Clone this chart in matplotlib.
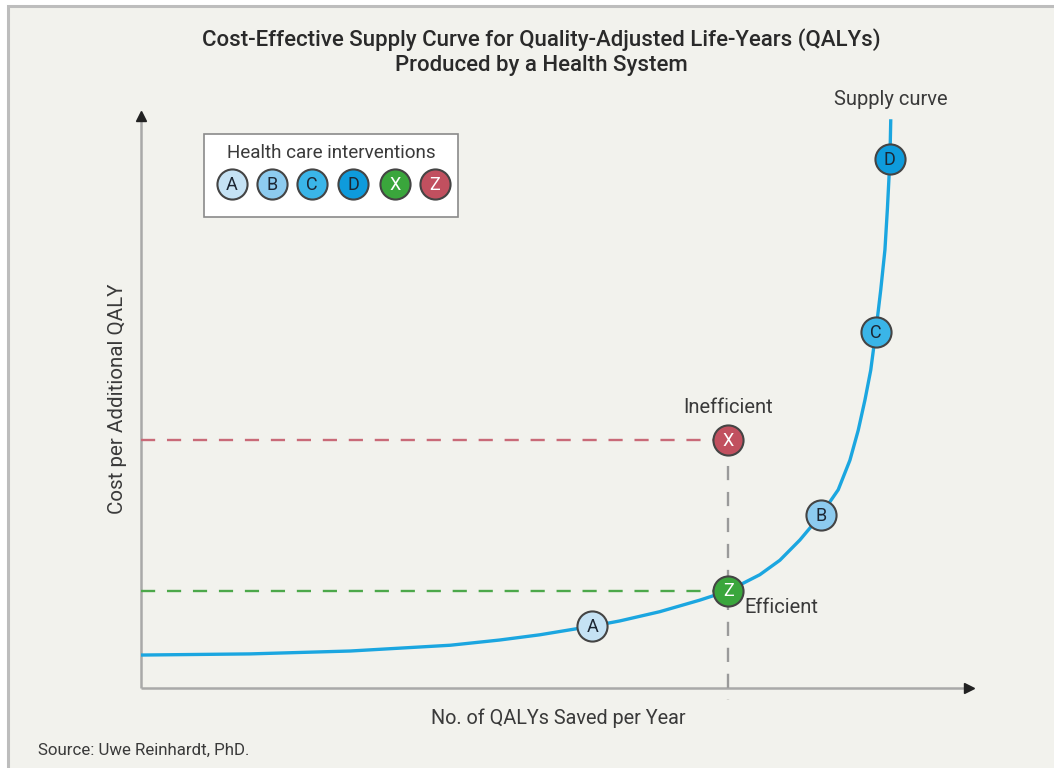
import matplotlib
matplotlib.use("Agg")
import matplotlib.pyplot as plt
from matplotlib.patches import Rectangle

# ---- data (arbitrary units: QALYs on x, cost per QALY on y) ----
curve_x = [0.0, 13.1, 25.1, 37.1, 43.0, 47.8, 54.1, 57.4, 62.2, 67.0, 70.4,
           74.2, 76.6, 79.0, 81.5, 83.6, 85.0, 86.0, 86.8, 87.5, 88.1, 88.7,
           89.2, 89.5, 89.8, 89.9]
curve_y = [5.7, 5.9, 6.4, 7.4, 8.3, 9.2, 10.7, 11.6, 13.2, 15.2, 16.8,
           19.6, 22.1, 25.6, 29.9, 34.3, 39.4, 44.6, 49.8, 55.0, 61.6, 68.9,
           75.8, 83.0, 91.5, 98.4]

point_labels = ["A", "Z", "B", "C", "D", "X"]
point_x = [54.1, 70.4, 81.5, 88.1, 89.8, 70.4]
point_y = [10.7, 16.8, 29.9, 61.6, 91.5, 42.9]

legend_labels = ["A", "B", "C", "D", "X", "Z"]
legend_colors = ["#c5e2f4", "#8dcbef", "#3ab5e8", "#0e9bdc", "#3aa63c", "#c1505f"]
legend_text_colors = ["#1c2633", "#1c2633", "#1c2633", "#1c2633", "white", "white"]

point_colors = {"A": "#c5e2f4", "B": "#8dcbef", "C": "#3ab5e8", "D": "#0e9bdc",
                "X": "#c1505f", "Z": "#3aa63c"}
point_text_colors = {"A": "#1c2633", "B": "#1c2633", "C": "#1c2633", "D": "#1c2633",
                     "X": "white", "Z": "white"}

title_lines = ["Cost-Effective Supply Curve for Quality-Adjusted Life-Years (QALYs)",
               "Produced by a Health System"]

plt.rcParams["font.family"] = ["Roboto", "DejaVu Sans"]

BG = "#f2f2ed"
TXT = "#3a3a3a"
MARKER_S = 470

W, H = 1054, 768
fig = plt.figure(figsize=(W / 100, H / 100), dpi=100)
fig.patch.set_facecolor("white")

# overlay axes in pixel coordinates for frame, title, legend, notes
ov = fig.add_axes([0, 0, 1, 1])
ov.set_xlim(0, W)
ov.set_ylim(H, 0)
ov.axis("off")
ov.add_patch(Rectangle((8, 6), W, H, facecolor=BG, edgecolor="#bdbdbd",
                       linewidth=2.2, zorder=0))

for i, line in enumerate(title_lines):
    ov.text(541, 40 + i * 26, line, ha="center", va="center", fontsize=16,
            fontweight="medium", color="#2a2a2a")

ov.text(38, 750, "Source: Uwe Reinhardt, PhD.", ha="left", va="center",
        fontsize=12.2, color=TXT)

# legend box
ov.add_patch(Rectangle((204, 134), 254, 83, facecolor="white",
                       edgecolor="#8a8a8a", linewidth=1.2, zorder=2))
ov.text(331, 153, "Health care interventions", ha="center", va="center",
        fontsize=13.6, color=TXT, zorder=3)
leg_x = [232, 272, 312, 353, 395, 435]
for lx, lab, col, tc in zip(leg_x, legend_labels, legend_colors, legend_text_colors):
    ov.scatter([lx], [184], s=MARKER_S, color=col, edgecolor="#444444",
               linewidth=1.5, zorder=3)
    ov.text(lx, 184.5, lab, ha="center", va="center", fontsize=13,
            color=tc, zorder=4)

# main plotting axes
ax = fig.add_axes([141 / W, (H - 688) / H, (975 - 141) / W, (688 - 110) / H])
ax.set_xlim(0, 100)
ax.set_ylim(0, 100)
ax.patch.set_alpha(0)
for s in ax.spines.values():
    s.set_visible(False)
ax.set_xticks([])
ax.set_yticks([])

# axes with arrowheads
ax.plot([0, 0], [0, 98.5], color="#a9a9a9", lw=1.8, clip_on=False,
        solid_capstyle="butt", zorder=2)
ax.plot([0, 98.8], [0, 0], color="#a9a9a9", lw=1.8, clip_on=False,
        solid_capstyle="butt", zorder=2)
ax.plot([0], [99.0], marker="^", color="#222222", markersize=7, clip_on=False, zorder=3)
ax.plot([99.3], [0], marker=">", color="#222222", markersize=7, clip_on=False, zorder=3)

# reference lines through the efficient and inefficient points
x_ref = point_x[point_labels.index("X")]
y_x = point_y[point_labels.index("X")]
y_z = point_y[point_labels.index("Z")]
ax.plot([0, x_ref], [y_x, y_x], color="#c96a78", lw=1.7, ls=(0, (6, 5)), zorder=3)
ax.plot([0, x_ref], [y_z, y_z], color="#4ca84a", lw=1.7, ls=(0, (6, 5)), zorder=3)
ax.plot([x_ref, x_ref], [y_x, -2.1], color="#9a9a9a", lw=1.7, ls=(0, (6, 5)),
        clip_on=False, zorder=3)

# supply curve
ax.plot(curve_x, curve_y, color="#1ba6e0", lw=2.4, zorder=4,
        solid_capstyle="butt", solid_joinstyle="round")

# intervention points
for lab, px, py in zip(point_labels, point_x, point_y):
    ax.scatter([px], [py], s=MARKER_S, color=point_colors[lab], edgecolor="#444444",
               linewidth=1.5, zorder=5)
    ax.text(px, py - 0.1, lab, ha="center", va="center", fontsize=13,
            color=point_text_colors[lab], zorder=6)

# annotations
ax.text(x_ref, y_x + 5.7, "Inefficient", ha="center", va="center",
        fontsize=14.5, color=TXT)
ax.text(x_ref + 2.0, y_z - 2.9, "Efficient", ha="left", va="center",
        fontsize=14.5, color=TXT)
ax.text(89.9, 101.8, "Supply curve", ha="center", va="center",
        fontsize=14.5, color=TXT, clip_on=False)

ax.set_xlabel("No. of QALYs Saved per Year", fontsize=14.3, color=TXT, labelpad=15)
ax.set_ylabel("Cost per Additional QALY", fontsize=14.8, color=TXT, labelpad=10)

fig.savefig("out.png", dpi=100, facecolor=fig.get_facecolor())
